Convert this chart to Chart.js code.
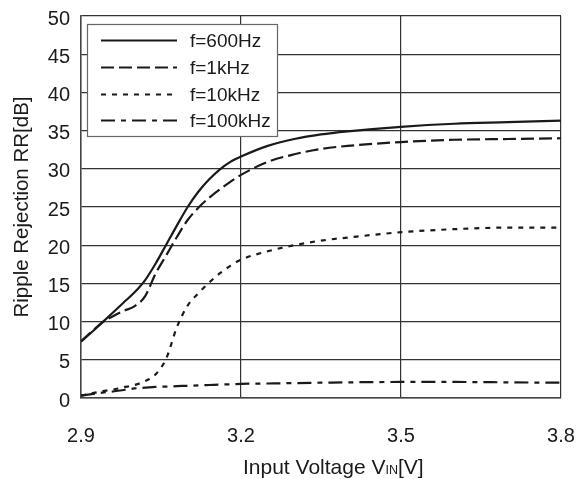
<!DOCTYPE html>
<html>
<head>
<meta charset="utf-8">
<script src="https://cdn.jsdelivr.net/npm/chart.js@4.4.1/dist/chart.umd.min.js"></script>
<style>
  html, body { margin: 0; padding: 0; background: #fff; }
  #wrap { width: 577px; height: 479px; }
</style>
</head>
<body>
<div id="wrap"><canvas id="rr" width="577" height="479"></canvas></div>
<script>
// Input voltage samples [V]
const vin = [2.90, 2.92, 2.94, 2.96, 2.98, 3.00, 3.02, 3.04, 3.06, 3.08, 3.10, 3.12,
             3.14, 3.16, 3.18, 3.20, 3.25, 3.30, 3.35, 3.40, 3.50, 3.60, 3.70, 3.80];

// Ripple rejection [dB] per ripple frequency
const rr600Hz = [7.4, 8.6, 9.9, 11.2, 12.5, 13.8, 15.4, 17.6, 20.1, 22.6, 25.0, 27.0,
                 28.6, 29.9, 30.9, 31.6, 33.0, 33.9, 34.5, 34.9, 35.5, 35.9, 36.1, 36.3];
const rr1kHz = [7.4, 8.7, 9.9, 10.7, 11.4, 12.0, 13.3, 16.3, 18.7, 21.1, 23.3, 24.9,
                26.2, 27.3, 28.3, 29.2, 30.9, 31.9, 32.6, 33.0, 33.5, 33.8, 33.9, 34.0];
const rr10kHz = [0.3, 0.6, 0.9, 1.1, 1.4, 1.7, 2.2, 3.1, 5.2, 9.3, 12.1, 13.7,
                 15.1, 16.3, 17.3, 18.1, 19.2, 20.0, 20.6, 21.0, 21.7, 22.1, 22.3, 22.3];
const rr100kHz = [0.3, 0.5, 0.7, 0.85, 1.05, 1.25, 1.35, 1.45, 1.5, 1.55, 1.6, 1.65,
                  1.7, 1.75, 1.8, 1.85, 1.9, 1.95, 2.0, 2.05, 2.1, 2.1, 2.05, 2.0];

const seriesLabels = ['f=600Hz', 'f=1kHz', 'f=10kHz', 'f=100kHz'];
const xTicks = [2.9, 3.2, 3.5, 3.8];
const yMin = 0, yMax = 50, yStep = 5;

const FONT = "'Liberation Sans', Arial, Helvetica, sans-serif";
const INK = '#1a1a1a';

function pts(ys) { return vin.map((v, i) => ({ x: v, y: ys[i] })); }

const dashes = [[], [13, 5], [5, 6], [14, 6, 5, 6]];
const datasets = [rr600Hz, rr1kHz, rr10kHz, rr100kHz].map((ys, i) => ({
  label: seriesLabels[i],
  data: pts(ys),
  borderColor: INK,
  borderWidth: 2.2,
  borderDash: dashes[i],
  pointRadius: 0,
  fill: false,
  cubicInterpolationMode: 'monotone'
}));

// keep the plot frame fixed: no extra room reserved for edge tick labels
function noEdgePadding(scale) {
  scale.paddingLeft = 0;
  scale.paddingRight = 0;
  scale.paddingTop = 0;
  scale.paddingBottom = 0;
}

// Boxed legend in the upper-left corner plus the two axis titles
const decor = {
  id: 'decor',
  afterDraw(chart) {
    const ctx = chart.ctx;
    ctx.save();
    // legend box
    const bx = 87.5, by = 24.5, bw = 190, bh = 112;
    ctx.fillStyle = '#fff';
    ctx.fillRect(bx, by, bw, bh);
    ctx.strokeStyle = '#666';
    ctx.lineWidth = 1.2;
    ctx.strokeRect(bx, by, bw, bh);
    const rows = [40.5, 67.5, 94.5, 120.5];
    chart.data.datasets.forEach((ds, i) => {
      ctx.beginPath();
      ctx.setLineDash(ds.borderDash || []);
      ctx.strokeStyle = ds.borderColor;
      ctx.lineWidth = ds.borderWidth;
      ctx.moveTo(101, rows[i]);
      ctx.lineTo(177, rows[i]);
      ctx.stroke();
      ctx.setLineDash([]);
      ctx.fillStyle = INK;
      ctx.font = '19px ' + FONT;
      ctx.textAlign = 'left';
      ctx.textBaseline = 'middle';
      ctx.fillText(ds.label, 190, rows[i] + 1);
    });

    // y-axis title
    ctx.save();
    ctx.translate(22, (chart.chartArea.top + chart.chartArea.bottom) / 2);
    ctx.rotate(-Math.PI / 2);
    ctx.font = '20.5px ' + FONT;
    ctx.textAlign = 'center';
    ctx.textBaseline = 'middle';
    ctx.fillStyle = INK;
    ctx.fillText('Ripple Rejection RR[dB]', 0, 0);
    ctx.restore();

    // x-axis title with subscript
    ctx.fillStyle = INK;
    ctx.textAlign = 'left';
    ctx.textBaseline = 'alphabetic';
    const base = 474;
    let x = 243;
    ctx.font = '21px ' + FONT;
    ctx.fillText('Input Voltage V', x, base);
    x += ctx.measureText('Input Voltage V').width;
    ctx.font = '12.5px ' + FONT;
    ctx.fillText('IN', x, base);
    x += ctx.measureText('IN').width;
    ctx.font = '21px ' + FONT;
    ctx.fillText('[V]', x, base);
    ctx.restore();
  }
};

new Chart(document.getElementById('rr'), {
  type: 'line',
  data: { datasets },
  options: {
    responsive: false,
    animation: false,
    layout: { padding: { top: 16, right: 16, left: 0, bottom: 0 } },
    plugins: { legend: { display: false }, tooltip: { enabled: false } },
    scales: {
      x: {
        type: 'linear',
        min: xTicks[0],
        max: xTicks[xTicks.length - 1],
        afterBuildTicks(scale) { scale.ticks = xTicks.map(v => ({ value: v })); },
        afterFit(scale) { scale.height = 81; noEdgePadding(scale); },
        grid: { color: '#333', lineWidth: 1.2, drawTicks: false },
        border: { color: '#444', width: 1.5 },
        ticks: {
          padding: 26,
          maxRotation: 0,
          autoSkip: false,
          color: INK,
          font: { family: FONT, size: 20 },
          callback: v => v.toFixed(1)
        }
      },
      y: {
        min: yMin,
        max: yMax,
        afterFit(scale) { scale.width = 81; noEdgePadding(scale); },
        grid: { color: '#333', lineWidth: 1.2, drawTicks: false },
        border: { color: '#444', width: 1.5 },
        ticks: {
          stepSize: yStep,
          padding: 11,
          labelOffset: 3,
          color: INK,
          font: { family: FONT, size: 20 }
        }
      }
    }
  },
  plugins: [decor]
});
</script>
</body>
</html>
